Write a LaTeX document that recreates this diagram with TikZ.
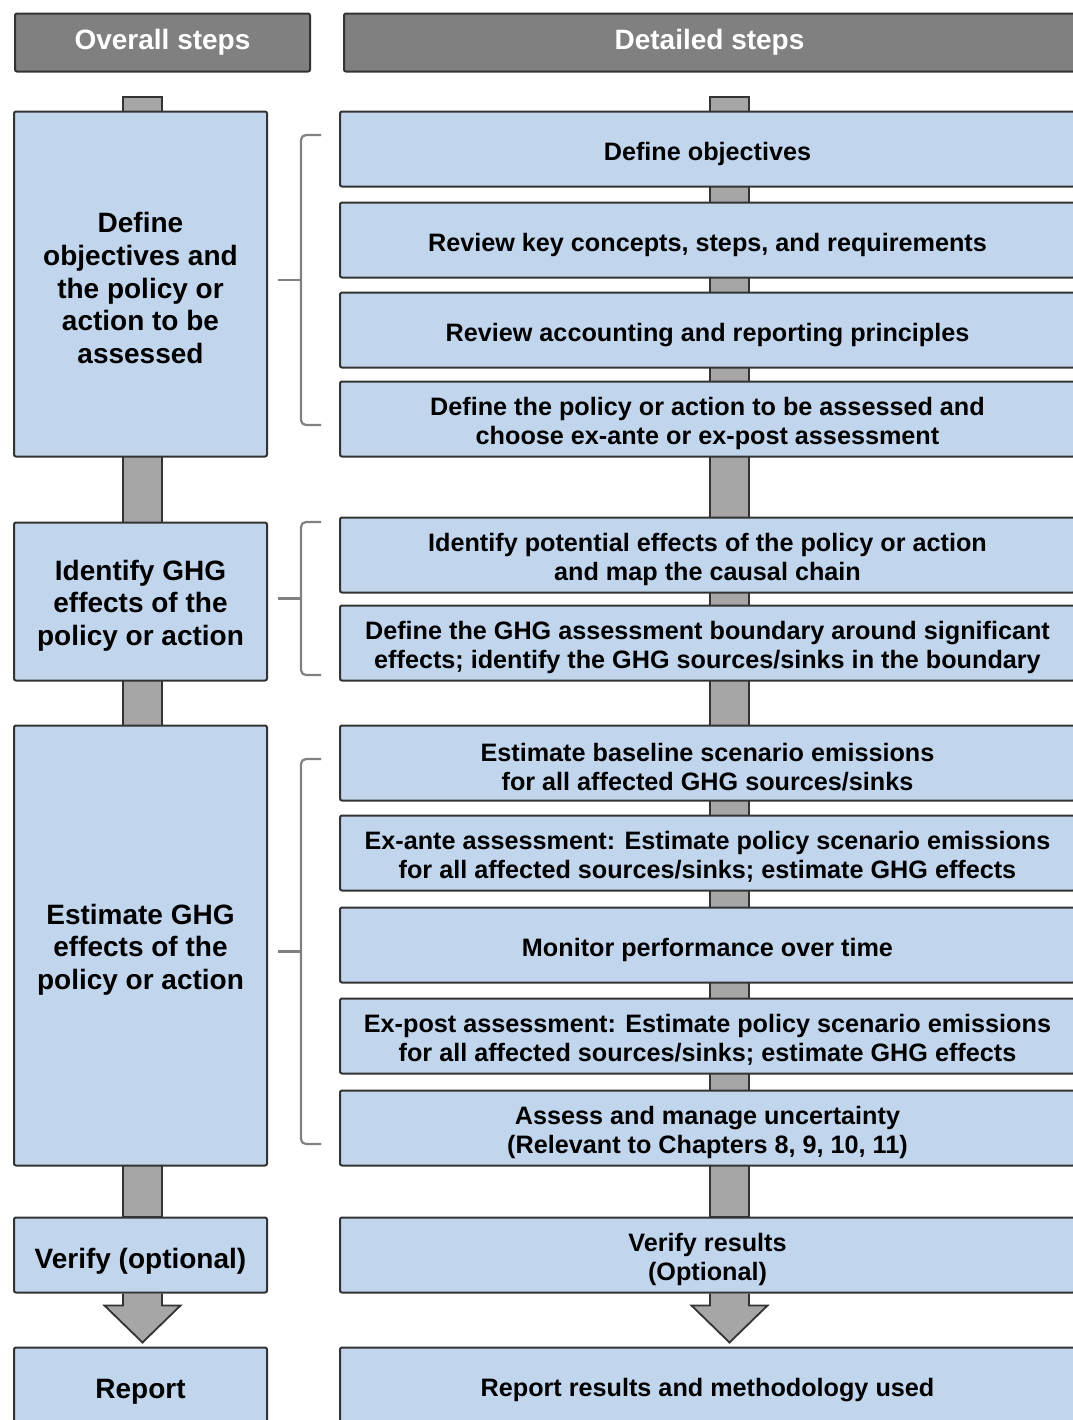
\documentclass[tikz,border=0pt]{standalone}
\usepackage{fontspec}
\setmainfont{Liberation Sans}
\usetikzlibrary{positioning,calc,backgrounds}
\definecolor{boxblue}{RGB}{193,214,237}

\begin{document}
\begin{tikzpicture}[
  x=0.5pt, y=-0.5pt,
  every node/.style={draw=black!80,line width=1pt,rounded corners=1pt,align=center},
  lift/.style={execute at begin node=\rule{0pt}{#1}},
  head/.style={fill=black!50,text=white,minimum height=29pt,font=\bfseries\fontsize{14}{16}\selectfont},
  detail/.style={fill=boxblue,minimum width=367.5pt,minimum height=37.5pt,font=\bfseries\fontsize{12.6}{14.5}\selectfont,lift=14.2pt},
  twoline/.style={detail,lift=27.7pt},
  overall/.style={fill=boxblue,minimum width=126.5pt,font=\bfseries\fontsize{14}{16.3}\selectfont,lift=16pt},
  bar/.style={draw=black!80,fill=black!35,line width=0.9pt},
  brace/.style={draw=black!50,line width=1.1pt,rounded corners=2.5pt}
]
  \useasboundingbox (0,0) rectangle (1072,1420);
  % detailed steps
  \node[detail] (d1) at (707.5,149) {Define objectives};
  \node[detail, below=7pt of d1] (d2) {Review key concepts, steps, and requirements};
  \node[detail, below=6.5pt of d2] (d3) {Review accounting and reporting principles};
  \node[twoline, below=6pt of d3] (d4) {Define the policy or action to be assessed and\\choose ex-ante or ex-post assessment};
  \node[twoline, below=29.5pt of d4] (d5) {Identify potential effects of the policy or action\\and map the causal chain};
  \node[twoline, below=5.5pt of d5] (d6) {Define the GHG assessment boundary around significant\\effects; identify the GHG sources/sinks in the boundary};
  \node[twoline, below=21.5pt of d6] (d7) {Estimate baseline scenario emissions\\for all affected GHG sources/sinks};
  \node[twoline, below=6.5pt of d7] (d8) {Ex-ante assessment: Estimate policy scenario emissions\\for all affected sources/sinks; estimate GHG effects};
  \node[detail, below=7.5pt of d8] (d9) {Monitor performance over time};
  \node[twoline, below=7pt of d9] (d10) {Ex-post assessment: Estimate policy scenario emissions\\for all affected sources/sinks; estimate GHG effects};
  \node[twoline, below=7.5pt of d10] (d11) {Assess and manage uncertainty\\(Relevant to Chapters 8, 9, 10, 11)};
  \node[twoline, below=25pt of d11] (d12) {Verify results\\(Optional)};
  \node[detail, below=26.5pt of d12] (d13) {Report results and methodology used};
  % headers
  \node[head, above=19pt of d1, minimum width=365.5pt, xshift=1pt] (hd2) {Detailed steps};
  \node[head, left=16pt of hd2, minimum width=147.5pt] (hd1) {Overall steps};
  % overall steps
  \coordinate (lx) at (13,0);
  \coordinate (rx) at (268,0);
  \node[overall, lift=79.4pt, minimum height=172.5pt] (ov1) at ($(lx |- d1.north)!0.5!(rx |- d4.south)$) {Define\\objectives and\\the policy or\\action to be\\assessed};
  \node[overall, lift=46.8pt, minimum height=79pt] (ov2) at ($(lx |- d5.north)!0.5!(rx |- d6.south)+(0,2.5)$) {Identify GHG\\effects of the\\policy or action};
  \node[overall, lift=46.8pt, minimum height=220pt] (ov3) at ($(lx |- d7.north)!0.5!(rx |- d11.south)$) {Estimate GHG\\effects of the\\policy or action};
  \node[overall, minimum height=37.5pt] (ov4) at ($(lx |- d12)!0.5!(rx |- d12)$) {Verify (optional)};
  \node[overall, minimum height=37.5pt] (ov5) at ($(lx |- d13)!0.5!(rx |- d13)$) {Report};
  % brackets
  \foreach \t/\b in {135/425, 522/675, 759/1144}
    {\draw[brace] (321,\t) -| (301,\b) -- (321,\b);
     \draw[brace] (301,{(\t+\b)/2}) -- (278,{(\t+\b)/2});}
  % flow bars and arrows
  \coordinate (lbar) at (142.5,97);
  \coordinate (rbar) at (729.5,97);
  \begin{pgfonlayer}{background}
    \draw[bar] ($(lbar)+(-19.5,0)$) rectangle ($(lbar |- ov4.north)+(19.5,0)$);
    \draw[bar] ($(rbar)+(-19.5,0)$) rectangle ($(rbar |- d12.north)+(19.5,0)$);
    \draw[bar] ($(lbar |- ov4.south)+(-19.5,0)$) -- ++(0,12) -- ++(-18.5,0)
      -- ($(lbar |- ov5.north)+(0,-4)$) -- ($(lbar |- ov4.south)+(38,12)$) -- ++(-18.5,0) -- ++(0,-12);
    \draw[bar] ($(rbar |- d12.south)+(-19.5,0)$) -- ++(0,12) -- ++(-18.5,0)
      -- ($(rbar |- d13.north)+(0,-4)$) -- ($(rbar |- d12.south)+(38,12)$) -- ++(-18.5,0) -- ++(0,-12);
  \end{pgfonlayer}
\end{tikzpicture}
\end{document}
